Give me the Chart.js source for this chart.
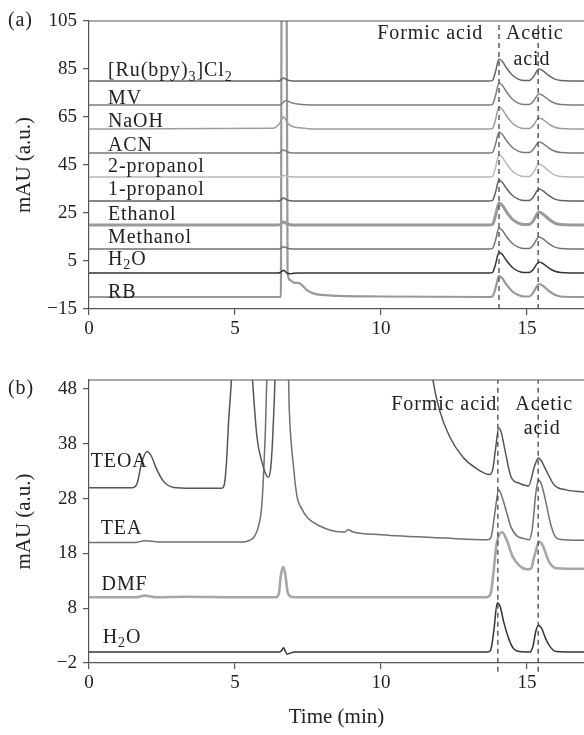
<!DOCTYPE html>
<html>
<head>
<meta charset="utf-8">
<title>HPLC chromatograms</title>
<script src="https://cdn.jsdelivr.net/npm/chart.js"></script>
<style>
  body { margin: 0; background: #fff; }
  canvas { position: absolute; left: 0; }
</style>
</head>
<body>
<canvas id="chartA" width="584" height="345" style="top:0"></canvas>
<canvas id="chartB" width="584" height="390" style="top:345px"></canvas>
<script>
// axis ticks
const xTicks = [0, 5, 10, 15];
const yTicksA = [-15, 5, 25, 45, 65, 85, 105];
const yTicksB = [-2, 8, 18, 28, 38, 48];

// panel (a): retention time (min) shared by all traces
const tA = [0, 6.3, 6.45, 6.55, 6.57, 6.6, 6.66, 6.72, 6.76, 6.8, 6.9, 7.0, 7.2, 7.45, 7.7, 8.2, 10,
            13.7, 13.82, 13.92, 14.04, 14.15, 14.3, 14.5, 14.7, 14.9, 15.07, 15.2, 15.41, 15.55, 15.75, 15.95, 16.15, 16.5, 16.95];
const ruBpy = [80,80,80,80.2,80.4,80.8,81.2,80.9,80.6,80.4,80.1,80,80,80,80,80,80,
               80,80.3,83.9,89.2,88.2,85.4,82.4,80.8,80.2,80.2,81.4,85,84.2,82.2,80.8,80.2,80,80];
const mv = [70,70,70,70.1,70.2,70.5,71.2,71.8,71.9,71.7,71.1,70.7,70.3,70.1,70,70,70,
            70,70.3,73.9,79.2,78.2,75.4,72.4,70.8,70.2,70.2,71.3,74.6,73.9,72,70.7,70.2,70,70];
const naoh = [60,60.3,61.3,62.8,63.3,64,65,64.3,63.2,62.5,61.4,60.9,60.5,60.2,60,60,60,
              60,60.3,63.9,69.2,68.2,65.4,62.4,60.8,60.2,60.2,61.3,64.6,63.9,62,60.7,60.2,60,60];
const acn = [50,50,50,50.2,50.4,50.9,51.3,51,50.7,50.4,50.1,50,50,50,50,50,50,
             50,50.3,53.6,58.8,57.8,55.1,52.3,50.8,50.2,50.2,51.3,54.6,53.9,52,50.7,50.2,50,50];
const propanol2 = [40,40,40,40.1,40.2,40.4,40.6,40.5,40.3,40.2,40.1,40,40,40,40,40,40,
                   40,40.3,43.9,49.2,48.2,45.4,42.4,40.8,40.2,40.2,41.5,45.4,44.5,42.4,40.8,40.2,40,40];
const propanol1 = [30,30,30,30.2,30.4,30.8,31.2,30.9,30.6,30.4,30.1,30,30,30,30,30,30,
                   30,30.3,33.6,38.8,37.8,35.1,32.3,30.8,30.2,30.2,31.4,35,34.2,32.2,30.8,30.2,30,30];
const ethanol = [20,20,20,20.2,20.4,20.8,21.2,20.9,20.6,20.4,20.1,20,20,20,20,20,20,
                 20,20.3,23.9,29.2,28.2,25.4,22.4,20.8,20.2,20.2,21.5,25.4,24.5,22.4,20.8,20.2,20,20];
const methanol = [10,10,10,10.1,10.3,10.6,10.9,10.7,10.5,10.3,10.1,10,10,10,10,10,10,
                  10,10.3,13.6,18.8,17.8,15.1,12.3,10.8,10.2,10.2,11.4,15,14.2,12.2,10.8,10.2,10,10];
const waterA = [0,0,0,0.2,0.4,0.7,1.1,0.6,0.2,-0.1,-0.3,-0.1,0,0,0,0,0,
                0,0.3,3.6,8.8,7.8,5.1,2.3,0.8,0.2,0.2,1.3,4.6,3.9,2,0.7,0.2,0,0];
const rb = [-10,-10,-10,-10,-10,140,140,140,140,-0.5,-3,-4,-4.2,-7,-8.6,-9.3,-9.8,
            -10,-9.7,-6.4,-1.2,-2.2,-4.9,-7.7,-9.2,-9.8,-9.8,-8.4,-4.6,-5.4,-7.5,-9.1,-9.8,-10,-10];
const namesA = ['[Ru(bpy)_3]Cl_2', 'MV', 'NaOH', 'ACN', '2-propanol', '1-propanol', 'Ethanol', 'Methanol', 'H_2O', 'RB'];
const nameYA = [84.2, 72.8, 63.2, 53.2, 44.4, 34.8, 24.4, 14.8, 5.7, -8.1];
const peakTimesA = [14.04, 15.38];

// panel (b): [time, mAU]
const teoa = [[0,30],[1.48,30],[1.65,30.8],[1.8,34.5],[1.99,36.6],[2.15,35.6],[2.28,33.8],[2.56,31.1],[2.9,30.05],[3.5,29.9],
  [4.55,29.9],[4.63,30.5],[4.7,34],[4.78,42],[4.88,50],[4.95,58],[5.5,58],[5.6,49.6],[5.75,39.3],[5.92,34.7],[6.05,32.5],
  [6.14,31.9],[6.22,33.5],[6.28,38],[6.34,45.4],[6.42,56],[11.6,58],[11.78,49.6],[12.0,44.2],[12.35,39.3],[12.8,35.6],
  [13.26,33.5],[13.71,32.4],[13.82,33.2],[13.92,37],[14.03,40.9],[14.12,40],[14.22,37.5],[14.45,32],[14.73,30.8],[15.05,30.3],
  [15.25,33.8],[15.39,35.4],[15.5,34.8],[15.65,33.2],[15.93,30.5],[16.33,29.6],[16.95,29.2]];
const tea = [[0,20],[1.6,20],[1.9,20.3],[2.4,20.1],[5.3,20.1],[5.5,20.4],[5.65,21],[5.8,22.9],[5.92,27],[6.03,39],[6.14,56],
  [6.8,56],[6.86,44],[7.0,34],[7.12,28.5],[7.3,26],[7.5,24.4],[7.9,23],[8.3,22.2],[8.75,21.9],[8.87,22.3],[9.05,21.9],
  [10,21.4],[12.2,20.8],[13.65,20.5],[13.77,21],[13.9,25.5],[14.03,29.6],[14.15,28.2],[14.3,25.5],[14.45,22.8],[14.65,21.2],
  [14.9,20.7],[15.07,20.5],[15.18,22.5],[15.3,29],[15.39,31.4],[15.5,30.5],[15.64,27.5],[15.8,23.5],[15.95,21.2],[16.1,20.6],[16.95,20.4]];
const dmf = [[0,10],[1.6,10],[1.9,10.3],[2.3,10],[3.3,10.1],[5,10],[6.4,10],[6.5,10.6],[6.57,14],[6.65,15.5],[6.72,14.2],
  [6.8,11],[6.92,10.1],[7.2,10],[13.6,10],[13.75,10.6],[13.85,14.5],[13.95,19.5],[14.14,21.9],[14.3,20.5],[14.5,17.5],
  [14.75,15.7],[15.0,15.1],[15.13,15.2],[15.25,17.5],[15.42,20.1],[15.55,19.3],[15.75,16.5],[16,15.3],[16.95,15.2]];
const waterB = [[0,0],[6.5,0],[6.6,0.3],[6.66,0.8],[6.72,0.2],[6.78,-0.4],[6.88,-0.2],[7.05,0],[13.65,0],[13.75,0.3],
  [13.86,3.8],[13.98,8.95],[14.08,8.3],[14.2,5.5],[14.35,2.8],[14.5,0.9],[14.65,0.2],[15.1,0],[15.2,1],[15.3,3.8],
  [15.39,4.9],[15.5,4.3],[15.65,2.3],[15.8,0.9],[16,0.1],[16.95,0]];
const namesB = ['TEOA', 'TEA', 'DMF', 'H_2O'];
const nameXB = [0.06, 0.4, 0.43, 0.47];
const nameYB = [34.7, 22.5, 12.3, 2.6];
const peakTimesB = [14.0, 15.38];

const FONT = '"Liberation Serif", "Times New Roman", serif';
const AXIS = '#555';
const INK = '#222';

function fmt(v) { return v < 0 ? '\u2212' + Math.abs(v) : String(v); }

// text with "_x" meaning subscript x
function richText(ctx, str, x, y, align) {
  const segs = [];
  for (let i = 0; i < str.length; i++) {
    if (str[i] === '_') { segs.push({ t: str[i + 1], sub: true }); i++; }
    else if (segs.length && !segs[segs.length - 1].sub) segs[segs.length - 1].t += str[i];
    else segs.push({ t: str[i], sub: false });
  }
  ctx.letterSpacing = '0.9px';
  let total = 0;
  for (const s of segs) {
    ctx.font = (s.sub ? 14 : 20) + 'px ' + FONT;
    s.w = ctx.measureText(s.t).width;
    total += s.w;
  }
  let cx = align === 'right' ? x - total : align === 'center' ? x - total / 2 : x;
  for (const s of segs) {
    ctx.font = (s.sub ? 14 : 20) + 'px ' + FONT;
    ctx.textAlign = 'left';
    ctx.fillText(s.t, cx, s.sub ? y + 6 : y);
    cx += s.w;
  }
  ctx.letterSpacing = '0px';
}

const notes = {
  id: 'notes',
  afterDraw(chart, args, opts) {
    const { ctx, chartArea: a, scales: { x, y } } = chart;
    ctx.save();
    ctx.strokeStyle = AXIS;
    ctx.lineWidth = 1.2;
    ctx.beginPath();
    ctx.moveTo(a.left, a.top);
    ctx.lineTo(a.right, a.top);
    ctx.stroke();
    ctx.fillStyle = INK;
    ctx.textBaseline = 'middle';
    richText(ctx, opts.panel, 8, y.getPixelForValue(opts.panelY), 'left');
    for (const it of opts.items) {
      richText(ctx, it.text, x.getPixelForValue(it.x), y.getPixelForValue(it.y), it.align);
    }
    ctx.restore();
  }
};

function xScale(title, height) {
  return {
    type: 'linear', min: 0, max: 16.95,
    afterBuildTicks: s => { s.ticks = xTicks.map(v => ({ value: v })); },
    afterFit: s => { s.height = height; },
    ticks: { font: { family: FONT, size: 19 }, color: INK, padding: 3, maxRotation: 0, autoSkip: false },
    grid: { drawOnChartArea: false, color: AXIS, tickLength: 6, lineWidth: 1.2 },
    border: { color: AXIS, width: 1.2 },
    title: { display: title, text: 'Time (min)', font: { family: FONT, size: 21 }, color: INK, padding: { top: 0, bottom: 5 } }
  };
}

function yScale(min, max, ticks) {
  return {
    min: min, max: max,
    afterBuildTicks: s => { s.ticks = ticks.map(v => ({ value: v })); },
    afterFit: s => { s.width = 89; },
    ticks: { font: { family: FONT, size: 19 }, color: INK, padding: 6, callback: v => fmt(v) },
    grid: { drawOnChartArea: false, color: AXIS, tickLength: 6, lineWidth: 1.2 },
    border: { color: AXIS, width: 1.2 },
    title: { display: true, text: 'mAU (a.u.)', font: { family: FONT, size: 21 }, color: INK, padding: { top: 12, bottom: 0 } }
  };
}

function trace(points, color, width) {
  return { data: points, borderColor: color, borderWidth: width, pointRadius: 0, fill: false, cubicInterpolationMode: 'monotone' };
}
function dashed(t, y0, y1, clip) {
  return { data: [{ x: t, y: y0 }, { x: t, y: y1 }], borderColor: '#444', borderWidth: 1.3, borderDash: [5, 4],
           pointRadius: 0, fill: false, clip: clip };
}
function seriesA(vals) { return tA.map((t, i) => ({ x: t, y: vals[i] })); }
function pairs(list) { return list.map(p => ({ x: p[0], y: p[1] })); }

const base = {
  responsive: false,
  animation: false,
  devicePixelRatio: 1
};

new Chart(document.getElementById('chartA'), {
  type: 'line',
  data: {
    datasets: [
      dashed(peakTimesA[0], -15, 105, true),
      dashed(peakTimesA[1], -15, 105, true),
      trace(seriesA(ruBpy), '#666', 1.5),
      trace(seriesA(mv), '#7e7e7e', 1.5),
      trace(seriesA(naoh), '#9c9c9c', 1.5),
      trace(seriesA(acn), '#7a7a7a', 1.5),
      trace(seriesA(propanol2), '#b8b8b8', 1.5),
      trace(seriesA(propanol1), '#606060', 1.5),
      trace(seriesA(ethanol), '#9a9a9a', 3),
      trace(seriesA(methanol), '#727272', 1.5),
      trace(seriesA(waterA), '#333', 1.5),
      trace(seriesA(rb), '#999', 2.2)
    ]
  },
  options: Object.assign({}, base, {
    layout: { padding: { top: 21, right: 0, left: 0, bottom: 0 } },
    scales: { x: xScale(false, 36), y: yScale(-15, 105, yTicksA) },
    plugins: {
      legend: { display: false },
      tooltip: { enabled: false },
      notes: {
        panel: '(a)', panelY: 105,
        items: namesA.map((n, i) => ({ text: n, x: 0.65, y: nameYA[i], align: 'left' })).concat([
          { text: 'Formic acid', x: 13.5, y: 99.6, align: 'right' },
          { text: 'Acetic', x: 14.28, y: 99.6, align: 'left' },
          { text: 'acid', x: 15.17, y: 88.8, align: 'center' }
        ])
      }
    }
  }),
  plugins: [notes]
});

new Chart(document.getElementById('chartB'), {
  type: 'line',
  data: {
    datasets: [
      dashed(peakTimesB[0], -3.6, 49.65, false),
      dashed(peakTimesB[1], -3.6, 49.65, false),
      trace(pairs(teoa), '#555', 1.5),
      trace(pairs(tea), '#707070', 1.5),
      trace(pairs(dmf), '#a6a6a6', 2.6),
      trace(pairs(waterB), '#333', 1.5)
    ]
  },
  options: Object.assign({}, base, {
    layout: { padding: { top: 35, right: 0, left: 0, bottom: 0 } },
    scales: { x: xScale(true, 72), y: yScale(-2, 49.65, yTicksB) },
    plugins: {
      legend: { display: false },
      tooltip: { enabled: false },
      notes: {
        panel: '(b)', panelY: 48,
        items: namesB.map((n, i) => ({ text: n, x: nameXB[i], y: nameYB[i], align: 'left' })).concat([
          { text: 'Formic acid', x: 13.98, y: 45.2, align: 'right' },
          { text: 'Acetic', x: 14.6, y: 45.2, align: 'left' },
          { text: 'acid', x: 15.52, y: 40.7, align: 'center' }
        ])
      }
    }
  }),
  plugins: [notes]
});
</script>
</body>
</html>
